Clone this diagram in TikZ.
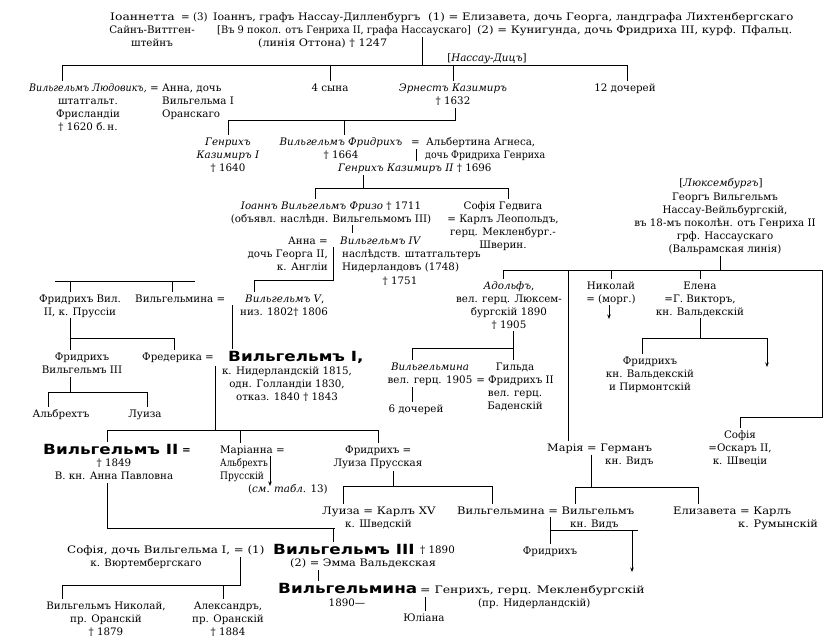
\documentclass[tikz,border=0pt]{standalone}
\usepackage{graphicx}
\usepackage{fontspec}
\setmainfont{DejaVu Serif}
\newfontfamily\grot[FakeStretch=1.2]{DejaVu Sans}
\newcommand\sx[2]{\scalebox{#1}[1]{#2}}
\usetikzlibrary{arrows.meta}
\begin{document}
\begin{tikzpicture}[x=1pt,y=-1pt,
  t/.style={inner sep=0pt, font=\fontsize{10.3}{13}\selectfont},
  tc/.style={t, align=center, anchor=base},
  tl/.style={t, align=left, anchor=base west},
  tr/.style={t, align=right, anchor=base east},
  big/.style={inner sep=0pt, anchor=base west, font=\fontsize{14}{16}\grot\bfseries},
  ln/.style={line width=0.8pt},
  arr/.style={ln, -{Stealth[length=4.5pt,width=3.5pt]}},
  tk/.style={ln, shorten >=2pt}]
\useasboundingbox (0,0) rectangle (831,640);
\fill[white] (0,0) rectangle (831,640);

% ---------- top ----------
\node[tl] (jt) at (110,20) {\sx{1.2}{Іоаннетта}};
\node[tl] (eq3) at (181,20) {= (3)};
\node[tl] (ioann) at (213,20) {\sx{1.07}{Іоаннъ, графъ Нассау-Дилленбургъ}};
\node[tl] (elis) at (428,20) {\sx{1.14}{(1) = Елизавета, дочь Георга, ландграфа Лихтенбергскаго}};
\node[tc] (sayn) at (152,46) {Сайнъ-Виттген-\\штейнъ};
\node[tl] (gen9) at (217,33) {\sx{0.96}{[Въ 9 покол. отъ Генриха II, графа Нассаускаго]}};
\node[tl] (kunig) at (477,33) {\sx{1.13}{(2) = Кунигунда, дочь Фридриха III, курф. Пфальц.}};
\node[tl] (otto) at (258,46) {\sx{1.09}{(линія Оттона) † 1247}};

\coordinate (r1) at (422,37);
\coordinate (h1m) at (422,65);
\coordinate (h1l) at (62,65);
\coordinate (h1r) at (627,65);
\coordinate (h1a) at (330,65);
\coordinate (h1b) at (453,65);
\draw[ln] (r1) -- (h1m);
\draw[ln] (h1l) -- (h1r);
\node[tc] (dietz) at (487,61) {[\textit{Нассау-Дицъ}]};

% ---------- row 2 ----------
\node[tc] (wl) at (88,130) {\sx{0.92}{\textit{Вильгельмъ Людовикъ,}}\\штатгальт.\\Фрисландіи\\† 1620 б.\,н.};
\node[tl] (eqa) at (150,91) {=};
\node[tl] (anna) at (162,117) {Анна, дочь\\Вильгельма I\\Оранскаго};
\node[tc] (sons) at (330,91) {4 сына};
\node[tc] (ernest) at (453,104) {\textit{Эрнестъ Казимиръ}\\† 1632};
\node[tc] (daug) at (625,91) {12 дочерей};
\draw[tk] (h1l) -- (h1l |- wl.north);
\draw[tk] (h1a) -- (h1a |- sons.north);
\draw[tk] (h1b) -- (h1b |- ernest.north);
\draw[tk] (h1r) -- (h1r |- daug.north);

% ---------- row 3 ----------
\coordinate (v2t) at (455,108);
\coordinate (h2r) at (455,120);
\coordinate (h2l) at (228,120);
\coordinate (h2m) at (344,120);
\draw[ln] (v2t) -- (h2r) -- (h2l);
\node[tc] (hk1) at (228,171) {\textit{Генрихъ}\\\textit{Казимиръ I}\\† 1640};
\node[tc] (wf) at (341,158) {\textit{Вильгельмъ Фридрихъ}\\† 1664};
\node[tl] (eqb) at (411,145) {=};
\node[tl] (alb) at (426,145) {Альбертина Агнеса,};
\node[tl] (alb2) at (425,158) {\sx{0.92}{дочь Фридриха Генриха}};
\node[tl] (hk2) at (338,171) {\textit{Генрихъ Казимиръ II} † 1696};
\draw[tk] (h2l) -- (h2l |- hk1.north);
\draw[tk] (h2m) -- (h2m |- wf.north);
\coordinate (b3t) at (416,149);
\coordinate (b3b) at (416,161);
\draw[ln] (b3t) -- (b3b);

% ---------- row 4 ----------
\coordinate (h3t) at (363,175);
\coordinate (h3m) at (363,188);
\coordinate (h3l) at (315,188);
\coordinate (h3r) at (508,188);
\draw[ln] (h3t) -- (h3m);
\draw[ln] (h3l) -- (h3r);
\node[tc] (friso) at (331,222) {\textit{Іоаннъ Вильгельмъ Фризо} † 1711\\(объявл. наслѣдн. Вильгельмомъ III)};
\node[tc] (sophia) at (503,248) {Софія Гедвига\\= Карлъ Леопольдъ,\\герц. Мекленбург.-\\Шверин.};
\draw[tk] (h3l) -- (h3l |- friso.north);
\draw[tk] (h3r) -- (h3r |- sophia.north);

% ---------- row 5 ----------
\node[tl] (anna2) at (288,244) {Анна =};
\node[tl] (w4) at (340,244) {\textit{Вильгельмъ IV}};
\node[tr] (anna2s) at (328,270) {дочь Георга II,\\к. Англіи};
\node[tl] (w4s) at (342,270) {наслѣдств. штатгальтеръ\\Нидерландовъ (1748)};
\node[tc] (w4d) at (400,284) {† 1751};
\coordinate (v4t) at (352,225);
\coordinate (v4b) at (352,233);
\draw[ln] (v4t) -- (v4b);
\coordinate (b5t) at (333,247);
\coordinate (b5b) at (333,280);
\coordinate (h5l) at (254,280);
\draw[ln] (b5t) -- (b5b) -- (h5l);

\coordinate (h6l) at (55,281);
\coordinate (h6r) at (195,281);
\coordinate (h6a) at (70,281);
\coordinate (h6b) at (172,281);
\draw[ln] (h6l) -- (h6r);

% ---------- row 6 ----------
\node[tc] (fw2) at (80,315) {Фридрихъ Вил.\\II, к. Пруссіи};
\node[tl] (wilh) at (135,302) {Вильгельмина =};
\node[tl] (w5) at (245,302) {\textit{Вильгельмъ V},};
\node[tl] (w5s) at (240,315) {низ. 1802† 1806};
\draw[tk] (h5l) -- (h5l |- w5.north);
\draw[tk] (h6a) -- (h6a |- fw2.north);
\draw[tk] (h6b) -- (h6b |- wilh.north);

% ---------- row 7 ----------
\node[tc] (fw3) at (82,373) {Фридрихъ\\Вильгельмъ III};
\node[tl] (fred) at (142,360) {Фредерика =};
\node[big] (w1) at (228,361) {Вильгельмъ I,};
\node[tc] (w1s) at (287,400) {к. Нидерландскій 1815,\\одн. Голландіи 1830,\\отказ. 1840 † 1843};
\coordinate (v6t) at (232,305);
\draw[tk] (v6t) -- (v6t |- w1.north);
\coordinate (v7t) at (70,318);
\coordinate (h7l) at (70,338);
\coordinate (h7r) at (174,338);
\draw[tk] (v7t) -- (v7t |- fw3.north);
\draw[ln] (h7l) -- (h7r);
\draw[tk] (h7r) -- (h7r |- fred.north);

\coordinate (v8t) at (70,377);
\coordinate (v8b) at (70,392);
\coordinate (h8l) at (48,392);
\coordinate (h8r) at (147,392);
\draw[ln] (v8t) -- (v8b);
\draw[ln] (h8l) -- (h8r);
\node[tc] (albr) at (61,417) {Альбрехтъ};
\node[tc] (lui1) at (145,417) {Луиза};
\draw[tk] (h8l) -- (h8l |- albr.north);
\draw[tk] (h8r) -- (h8r |- lui1.north);

\coordinate (b9t) at (215,366);
\coordinate (b9b) at (215,430);
\coordinate (h9l) at (107,430);
\coordinate (h9m) at (240,430);
\coordinate (h9r) at (378,430);
\draw[ln] (b9t) -- (b9b);
\draw[ln] (h9l) -- (h9r);

% ---------- row 8 ----------
\node[big] (w2) at (43,454) {Вильгельмъ II};
\node[tl] (eqw2) at (182,453) {\textbf{=}};
\node[tc] (w2s) at (114,479) {† 1849\\В. кн. Анна Павловна};
\node[tl] (mari) at (220,479) {Маріанна =\\\sx{0.84}{Альбрехтъ}\\\sx{0.88}{Прусскій}};
\node[tl] (tabl) at (248,492) {(\textit{см. табл.} 13)};
\coordinate (a8t) at (270,456);
\coordinate (a8b) at (270,486);
\draw[arr] (a8t) -- (a8b);
\node[tl] (frid) at (345,453) {Фридрихъ =};
\node[tc] (frids) at (378,466) {Луиза Прусская};
\draw[tk] (h9l) -- (h9l |- w2.north);
\draw[tk] (h9m) -- (h9m |- mari.north);
\draw[tk] (h9r) -- (h9r |- frid.north);

\coordinate (v10t) at (393,471);
\coordinate (v10b) at (393,486);
\coordinate (h10l) at (343,486);
\coordinate (h10r) at (492,486);
\draw[ln] (v10t) -- (v10b);
\draw[ln] (h10l) -- (h10r);

\coordinate (v11t) at (107,483);
\coordinate (h11l) at (107,528);
\coordinate (h11r) at (335,528);
\coordinate (h11k) at (333,528);
\draw[ln] (v11t) -- (h11l) -- (h11r);

% ---------- row 9 ----------
\node[tl] (lui2) at (322,514) {\sx{1.13}{Луиза = Карлъ XV}};
\node[tl] (lui2s) at (345,527) {к. Шведскій};
\node[tl] (wilh2) at (457,514) {\sx{1.12}{Вильгельмина = Вильгельмъ}};
\node[tl] (wilh2s) at (570,527) {кн. Видъ};
\node[tl] (elsv) at (673,514) {\sx{1.12}{Елизавета = Карлъ}};
\node[tl] (elsvs) at (738,527) {\sx{1.1}{к. Румынскій}};
\draw[tk] (h10l) -- (h10l |- lui2.north);
\draw[tk] (h10r) -- (h10r |- wilh2.north);
\node[tc] (fr4) at (550,554) {Фридрихъ};
\coordinate (b12t) at (550,517);
\coordinate (h12l) at (550,530);
\coordinate (h12r) at (638,530);
\coordinate (h12a) at (632,530);
\coordinate (a12b) at (632,572);
\draw[ln] (b12t) -- (h12l) -- (h12r);
\draw[tk] (h12l) -- (h12l |- fr4.north);
\draw[arr] (h12a) -- (a12b);

% ---------- row 10 ----------
\node[tl] (soph2) at (67,553) {\sx{1.15}{Софія, дочь Вильгельма I, = (1)}};
\node[tc] (soph2s) at (146,566) {к. Вюртембергскаго};
\node[big] (w3) at (273,554) {Вильгельмъ III};
\node[tl] (w3d) at (420,553) {† 1890};
\node[tl] (emma) at (290,566) {\sx{1.1}{(2) = Эмма Вальдекская}};
\draw[tk] (h11k) -- (h11k |- w3.north);
\coordinate (v13t) at (240,557);
\coordinate (h13r) at (240,585);
\coordinate (h13l) at (62,585);
\coordinate (h13m) at (223,585);
\draw[ln] (v13t) -- (h13r) -- (h13l);

% ---------- row 11 / 12 ----------
\node[big] (wilh3) at (278,593) {Вильгельмина};
\node[tl] (hein) at (420,593) {\sx{1.21}{= Генрихъ, герц. Мекленбургскій}};
\node[tl] (heins) at (478,606) {(пр. Нидерландскій)};
\node[tc] (y1890) at (347,606) {1890—};
\node[tc] (juli) at (424,621) {Юліана};
\coordinate (v14e) at (318,570);
\coordinate (v14j) at (425,597);
\draw[tk] (v14e) -- (v14e |- wilh3.north);
\draw[tk] (v14j) -- (v14j |- juli.north);
\node[tc] (wn) at (106,635) {Вильгельмъ Николай,\\пр. Оранскій\\† 1879};
\node[tc] (alex) at (228,635) {Александръ,\\пр. Оранскій\\† 1884};
\draw[tk] (h13l) -- (h13l |- wn.north);
\draw[tk] (h13m) -- (h13m |- alex.north);

% ---------- right side ----------
\node[tc] (lux) at (721,186) {[\textit{Люксембургъ}]};
\node[tc] (georg) at (725,252) {Георгъ Вильгельмъ\\Нассау-Вейльбургскій,\\въ 18-мъ поколѣн. отъ Генриха II\\грф. Нассаускаго\\(Вальрамская линія)};
\coordinate (v14t) at (720,256);
\coordinate (h14m) at (720,270);
\coordinate (h14l) at (503,270);
\coordinate (h14r) at (822,270);
\coordinate (h14a) at (568,270);
\coordinate (h14b) at (611,270);
\coordinate (h14c) at (700,270);
\draw[ln] (v14t) -- (h14m);
\draw[ln] (h14l) -- (h14r);

\node[tc] (adolf) at (509,328) {\textit{Адольфъ},\\вел. герц. Люксем-\\бургскій 1890\\† 1905};
\node[tc] (nik) at (611,302) {Николай\\= (морг.)};
\node[tc] (elena) at (700,315) {Елена\\=Г. Викторъ,\\кн. Вальдекскій};
\draw[tk] (h14l) -- (h14l |- adolf.north);
\draw[tk] (h14b) -- (h14b |- nik.north);
\draw[tk] (h14c) -- (h14c |- elena.north);
\coordinate (a14t) at (609,305);
\coordinate (a14b) at (609,319);
\draw[arr] (a14t) -- (a14b);

\node[tc] (wilh4) at (430,383) {\textit{Вильгельмина}\\вел. герц. 1905};
\node[tc] (gilda) at (515,409) {Гильда\\= Фридрихъ II\\вел. герц.\\Баденскій};
\node[tc] (d6) at (416,412) {6 дочерей};
\coordinate (v15t) at (513,331);
\coordinate (h15r) at (513,348);
\coordinate (h15l) at (412,348);
\coordinate (v15d) at (412,387);
\draw[tk] (v15t) -- (v15t |- gilda.north);
\draw[ln] (h15l) -- (h15r);
\draw[tk] (h15l) -- (h15l |- wilh4.north);
\draw[tk] (v15d) -- (v15d |- d6.north);

\coordinate (v16t) at (700,318);
\coordinate (h16m) at (700,338);
\coordinate (h16l) at (642,338);
\coordinate (h16r) at (767,338);
\coordinate (a16b) at (767,367);
\draw[ln] (v16t) -- (h16m);
\draw[ln] (h16l) -- (h16r);
\node[tc] (fr3) at (650,390) {Фридрихъ\\кн. Вальдекскій\\и Пирмонтскій};
\draw[tk] (h16l) -- (h16l |- fr3.north);
\draw[arr] (h16r) -- (a16b);

\coordinate (v17b) at (822,417);
\coordinate (h17l) at (740,417);
\draw[ln] (h14r) -- (v17b) -- (h17l);
\node[tc] (sof3) at (740,464) {Софія\\=Оскаръ II,\\к. Швеціи};
\draw[tk] (h17l) -- (h17l |- sof3.north);

\node[tl] (maria) at (547,451) {\sx{1.1}{Марія = Германъ}};
\node[tl] (marias) at (605,464) {кн. Видъ};
\draw[tk] (h14a) -- (h14a |- maria.north);
\coordinate (v18t) at (591,455);
\coordinate (h18m) at (591,487);
\coordinate (h18l) at (575,487);
\coordinate (h18r) at (698,487);
\draw[ln] (v18t) -- (h18m);
\draw[ln] (h18l) -- (h18r);
\draw[tk] (h18l) -- (h18l |- wilh2.north);
\draw[tk] (h18r) -- (h18r |- elsv.north);
\end{tikzpicture}
\end{document}
